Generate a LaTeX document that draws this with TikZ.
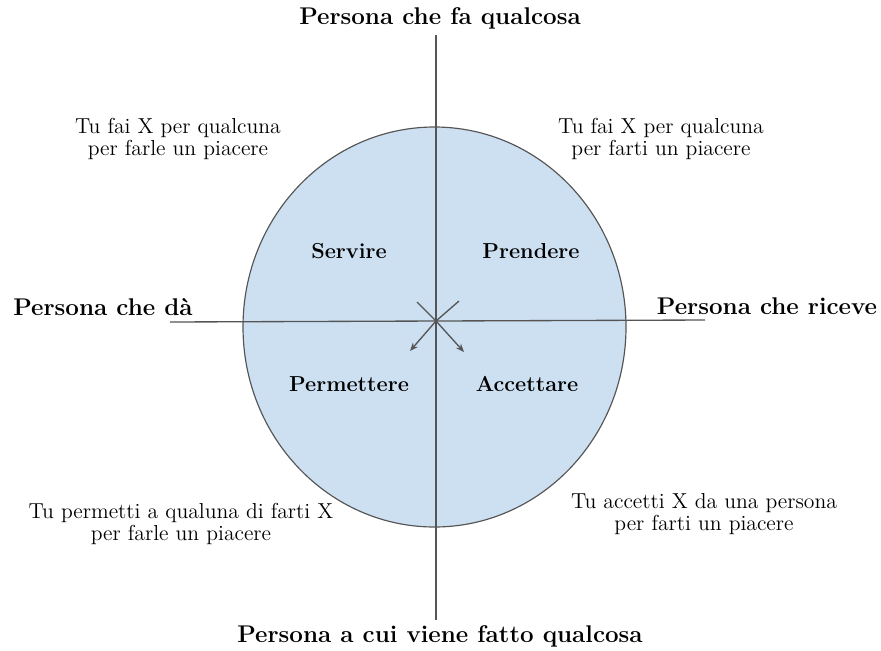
\documentclass[tikz,border=0pt]{standalone}
\usetikzlibrary{arrows.meta}
\definecolor{discfill}{RGB}{205,224,242}
\definecolor{axisgray}{RGB}{85,85,85}

\begin{document}
\begin{tikzpicture}[
    x=0.6pt, y=-0.6pt,
    axis/.style={draw=axisgray, line width=0.8pt},
    pole/.style={font=\fontsize{14.5}{17}\selectfont\bfseries},
    quad/.style={font=\fontsize{13}{15}\selectfont\bfseries},
    note/.style={font=\fontsize{13}{13.3}\selectfont, align=center},
    turn/.style={draw=axisgray, line width=0.8pt, -{Stealth[length=5pt,width=4pt]}}
]
\useasboundingbox (0,0) rectangle (881,650);

% Disc
\fill[discfill] (434.5,327) ellipse [x radius=191.5, y radius=200];
\draw[axisgray, line width=0.7pt] (434.5,327) ellipse [x radius=191.5, y radius=200];

% Axes
\coordinate (o) at (436,321);
\coordinate (top) at (436,35);
\coordinate (bottom) at (436,620);
\coordinate (left) at (170,322);
\coordinate (right) at (705,320);
\draw[axis] (top) -- (bottom);
\draw[axis] (left) -- (right);

% Poles
\node[pole] (doer) at (440,18) {Persona che fa qualcosa};
\node[pole] (done) at (440,636) {Persona a cui viene fatto qualcosa};
\node[pole, anchor=base] (giver) at (103,315) {Persona che dà};
\node[pole, anchor=base] (taker) at (767,314) {Persona che riceve};

% Quadrants
\node[quad] (serve) at (349,251) {Servire};
\node[quad] (take) at (531,251) {Prendere};
\node[quad] (allow) at (349,384) {Permettere};
\node[quad] (accept) at (527,384) {Accettare};

% Descriptions
\node[note] (tl) at (178,139) {Tu fai X per qualcuna\\per farle un piacere};
\node[note] (tr) at (661,139) {Tu fai X per qualcuna\\per farti un piacere};
\node[note] (bl) at (181,524) {Tu permetti a qualuna di farti X\\per farle un piacere};
\node[note] (br) at (704,514) {Tu accetti X da una persona\\per farti un piacere};

% Cross
\coordinate (ul) at (417,302);
\coordinate (ur) at (459,301);
\coordinate (dl) at (410,351);
\coordinate (dr) at (464,352);
\draw[turn] (ul) -- (o) -- (dr);
\draw[turn] (ur) -- (o) -- (dl);

\end{tikzpicture}
\end{document}
